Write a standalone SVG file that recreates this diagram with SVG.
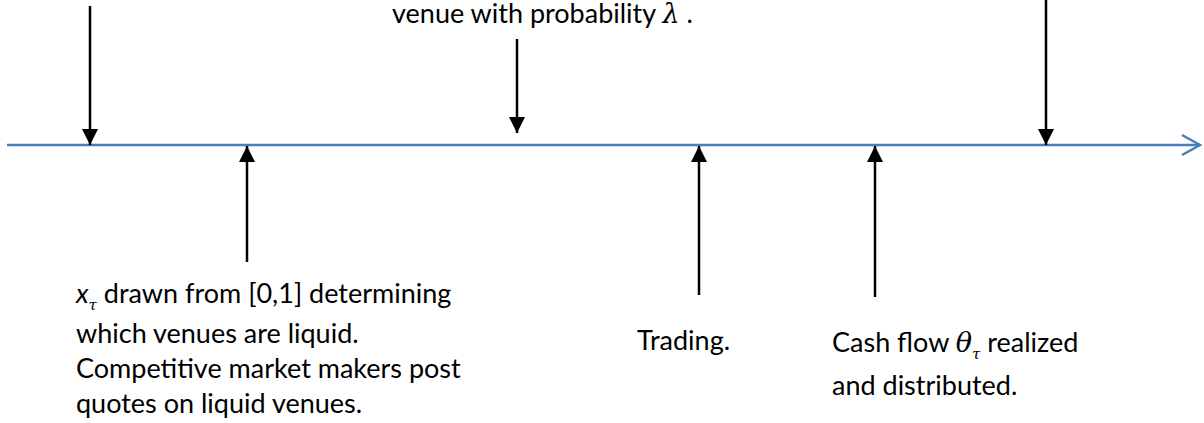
<svg xmlns="http://www.w3.org/2000/svg" width="1204" height="423" viewBox="0 0 1204 423">
<style>
.t{font-family:Lato,"Open Sans","Liberation Sans",sans-serif;font-size:27px;fill:#000}
.m{font-family:"DejaVu Serif","Liberation Serif",serif;font-style:italic;fill:#000}
.ar{stroke:#000;stroke-width:2.5;fill:none}
.tl{stroke:#4a7ebb;stroke-width:2.5;fill:none}
</style>
<defs>
<marker id="ah" markerUnits="userSpaceOnUse" markerWidth="18" markerHeight="18" viewBox="0 0 18 18" refX="16" refY="9" orient="auto">
<path d="M0,1 L16,9 L0,17 Z" fill="#000"/>
</marker>
</defs>
<g id="timeline">
<line class="tl" x1="7" y1="145" x2="1200" y2="145"/>
<polyline class="tl" points="1182,135 1200,145 1182,155"/>
</g>
<g id="connectors">
<line class="ar" x1="90" y1="6" x2="90" y2="145" marker-end="url(#ah)"/>
<line class="ar" x1="517" y1="39" x2="517" y2="133" marker-end="url(#ah)"/>
<line class="ar" x1="1046" y1="0" x2="1046" y2="145" marker-end="url(#ah)"/>
<line class="ar" x1="247" y1="262" x2="247" y2="146" marker-end="url(#ah)"/>
<line class="ar" x1="699" y1="295" x2="699" y2="146" marker-end="url(#ah)"/>
<line class="ar" x1="875" y1="297" x2="875" y2="146" marker-end="url(#ah)"/>
</g>
<g id="label-top">
<text class="t" x="392" y="23">venue with probability <tspan class="m">λ</tspan> .</text>
</g>
<g id="label-xtau">
<text class="t" x="76" y="303"><tspan font-style="italic">x</tspan><tspan class="m" font-size="15" dy="7">τ</tspan><tspan dy="-7"> drawn from [0,1] determining</tspan></text>
<text class="t" x="76" y="343">which venues are liquid.</text>
<text class="t" x="76" y="378">Competitive market makers post</text>
<text class="t" x="76" y="413">quotes on liquid venues.</text>
</g>
<g id="label-trading">
<text class="t" x="637" y="350">Trading.</text>
</g>
<g id="label-cash">
<text class="t" x="832" y="352">Cash flow <tspan class="m">θ</tspan><tspan class="m" font-size="15" dy="7">τ</tspan><tspan dy="-7"> realized</tspan></text>
<text class="t" x="832" y="395">and distributed.</text>
</g>
</svg>
